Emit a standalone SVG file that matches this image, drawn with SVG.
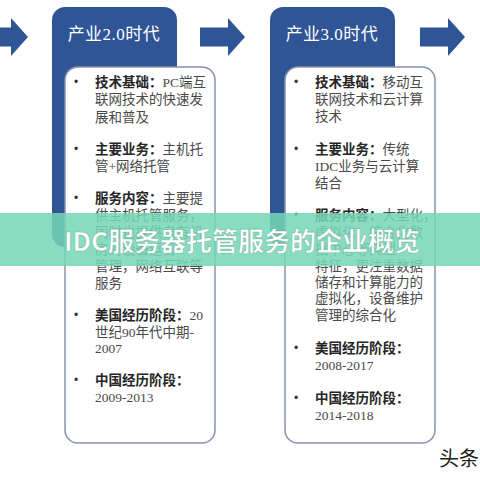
<svg xmlns="http://www.w3.org/2000/svg" width="480" height="480" viewBox="0 0 480 480">
<defs>
<style>
.blue{fill:#2f5597}
.card{fill:#fff;stroke:#8792ad;stroke-width:1.5}
.ttl{font-family:"Liberation Serif","Noto Sans CJK SC",serif;font-size:17px;letter-spacing:0.5px;fill:#fff}
.t{font-family:"Liberation Serif","Noto Sans CJK SC",serif;font-size:13.5px;fill:#4a4a4a}
.b{font-weight:bold;fill:#262626}
.bul{font-family:"Liberation Sans",sans-serif;font-size:12px;fill:#333}
.ban{fill:#74d6b6;opacity:0.86}
.bt{font-family:"Noto Sans CJK SC","Liberation Sans",sans-serif;font-size:26px;font-weight:bold;fill:#fff}
</style>
<path id="arr" d="M0,-9.5 H28 V-19 L45,0 L28,19 V9.5 H0 Z"/>
</defs>
<rect width="480" height="480" fill="#fff"/>
<g id="connectors">
<use href="#arr" x="-17" y="37" class="blue"/>
<use href="#arr" x="200" y="37" class="blue"/>
<use href="#arr" x="420" y="37" class="blue"/>
</g>
<g id="node-2">
<rect x="52" y="7" width="125" height="240" rx="13" class="blue"/>
<text x="114" y="40" text-anchor="middle" class="ttl">产业2.0时代</text>
<rect x="65" y="67" width="150" height="376" rx="13" class="card"/>
<g class="t">
<text x="74" y="86" class="bul">•</text>
<text x="95" y="87"><tspan class="b">技术基础：</tspan>PC端互</text>
<text x="95" y="104">联网技术的快速发</text>
<text x="95" y="122">展和普及</text>
<text x="74" y="153" class="bul">•</text>
<text x="95" y="154"><tspan class="b">主要业务：</tspan>主机托</text>
<text x="95" y="171">管+网络托管</text>
<text x="74" y="202" class="bul">•</text>
<text x="95" y="203"><tspan class="b">服务内容：</tspan>主要提</text>
<text x="95" y="220">供主机托管服务，</text>
<text x="95" y="237">同时也提供自有机</text>
<text x="95" y="254">房的设备运营</text>
<text x="95" y="271">管理，网络互联等</text>
<text x="95" y="288">服务</text>
<text x="74" y="319" class="bul">•</text>
<text x="95" y="320"><tspan class="b">美国经历阶段：</tspan>20</text>
<text x="95" y="337">世纪90年代中期-</text>
<text x="95" y="353">2007</text>
<text x="74" y="384" class="bul">•</text>
<text x="95" y="385"><tspan class="b">中国经历阶段：</tspan></text>
<text x="95" y="402">2009-2013</text>
</g>
</g>
<g id="node-3">
<rect x="270" y="7" width="125" height="240" rx="13" class="blue"/>
<text x="332" y="40" text-anchor="middle" class="ttl">产业3.0时代</text>
<rect x="285" y="67" width="150" height="376" rx="13" class="card"/>
<g class="t">
<text x="294" y="86" class="bul">•</text>
<text x="315" y="87"><tspan class="b">技术基础：</tspan>移动互</text>
<text x="315" y="104">联网技术和云计算</text>
<text x="315" y="121">技术</text>
<text x="294" y="153" class="bul">•</text>
<text x="315" y="154"><tspan class="b">主要业务：</tspan>传统</text>
<text x="315" y="171">IDC业务与云计算</text>
<text x="315" y="188">结合</text>
<text x="294" y="219" class="bul">•</text>
<text x="315" y="220"><tspan class="b">服务内容：</tspan>大型化，</text>
<text x="315" y="237">虚拟化、综合化数</text>
<text x="315" y="254">据中心等典型</text>
<text x="315" y="271">特征，更注重数据</text>
<text x="315" y="287">储存和计算能力的</text>
<text x="315" y="303">虚拟化，设备维护</text>
<text x="315" y="320">管理的综合化</text>
<text x="294" y="352" class="bul">•</text>
<text x="315" y="353"><tspan class="b">美国经历阶段：</tspan></text>
<text x="315" y="370">2008-2017</text>
<text x="294" y="402" class="bul">•</text>
<text x="315" y="403"><tspan class="b">中国经历阶段：</tspan></text>
<text x="315" y="420">2014-2018</text>
</g>
</g>
<g id="banner">
<rect x="0" y="213" width="480" height="53" class="ban"/>
<text x="242" y="251" text-anchor="middle" class="bt" stroke="#3a8a70" stroke-width="0.6" stroke-opacity="0.5">IDC服务器托管服务的企业概览</text>
</g>
<text x="439" y="466" font-family="Noto Sans CJK SC,sans-serif" font-size="20" fill="#222">头条</text>
</svg>
